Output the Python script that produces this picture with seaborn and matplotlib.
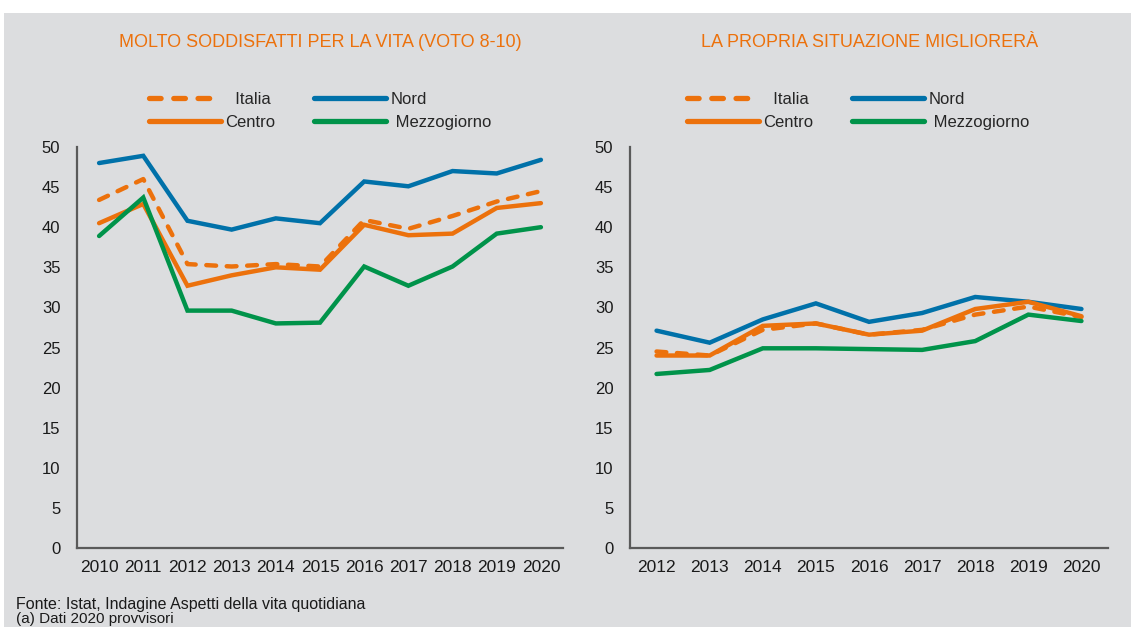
import numpy as np
import pandas as pd
import matplotlib
matplotlib.use("Agg")
import matplotlib.pyplot as plt
import seaborn as sns
from matplotlib.patches import Rectangle
from matplotlib.lines import Line2D

# ---------------- data ----------------
series = ["Italia", "Nord", "Centro", "Mezzogiorno"]

years_left = [2010, 2011, 2012, 2013, 2014, 2015, 2016, 2017, 2018, 2019, 2020]
italia_left = [43.4, 46.0, 35.4, 35.1, 35.4, 35.1, 40.9, 39.8, 41.4, 43.2, 44.5]
nord_left = [48.0, 48.9, 40.8, 39.7, 41.1, 40.5, 45.7, 45.1, 47.0, 46.7, 48.4]
centro_left = [40.5, 42.9, 32.7, 34.0, 35.0, 34.7, 40.3, 39.0, 39.2, 42.4, 43.0]
mezzo_left = [38.9, 43.7, 29.6, 29.6, 28.0, 28.1, 35.1, 32.7, 35.1, 39.2, 40.0]

years_right = [2012, 2013, 2014, 2015, 2016, 2017, 2018, 2019, 2020]
italia_right = [24.5, 24.0, 27.2, 28.0, 26.6, 27.2, 29.1, 30.1, 28.8]
nord_right = [27.1, 25.6, 28.5, 30.5, 28.2, 29.3, 31.3, 30.7, 29.8]
centro_right = [24.0, 24.0, 27.7, 28.0, 26.6, 27.1, 29.8, 30.7, 28.9]
mezzo_right = [21.7, 22.2, 24.9, 24.9, 24.8, 24.7, 25.8, 29.1, 28.3]

title_left = "MOLTO SODDISFATTI PER LA VITA (VOTO 8-10)"
title_right = "LA PROPRIA SITUAZIONE MIGLIORERÀ"
source_line1 = "Fonte: Istat, Indagine Aspetti della vita quotidiana"
source_line2 = "(a) Dati 2020 provvisori"
y_ticks = [0, 5, 10, 15, 20, 25, 30, 35, 40, 45, 50]

# ---------------- style ----------------
BG = "#DCDDDF"
ORANGE = "#EC710C"
BLUE = "#0071A9"
GREEN = "#00934A"
SPINE = "#5A5A5A"
TXT = "#1A1A1A"
palette = {"Italia": ORANGE, "Nord": BLUE, "Centro": ORANGE, "Mezzogiorno": GREEN}
dash_map = {"Italia": (2.2, 2.4), "Nord": "", "Centro": "", "Mezzogiorno": ""}
LW = 3.2

sns.set_style("white")
NARROW = ["Liberation Sans Narrow", "Liberation Sans", "DejaVu Sans"]
SANS = ["Liberation Sans", "Arial", "DejaVu Sans"]
plt.rcParams["font.family"] = SANS

W, H = 1131, 627
fig = plt.figure(figsize=(W / 100, H / 100), dpi=100)
fig.patch.set_facecolor("white")
fig.add_artist(Rectangle((4 / W, 0), 1, (H - 13) / H, transform=fig.transFigure,
                         facecolor=BG, edgecolor="none", zorder=-10))

ax_l = fig.add_axes([77 / W, 1 - 548 / H, 486 / W, 401 / H])
ax_r = fig.add_axes([630 / W, 1 - 548 / H, 478 / W, 401 / H])


def long_df(years, vals):
    rows = []
    for name, v in zip(series, vals):
        for i, (yr, val) in enumerate(zip(years, v)):
            rows.append({"pos": i, "anno": yr, "serie": name, "valore": val})
    return pd.DataFrame(rows)


def draw(ax, years, vals, title, tx, lx):
    df = long_df(years, vals)
    sns.lineplot(data=df, x="pos", y="valore", hue="serie", style="serie",
                 hue_order=series, style_order=series, palette=palette,
                 dashes=dash_map, linewidth=LW, legend=False, sort=False, ax=ax)
    for ln in ax.lines:
        ln.set_dash_capstyle("round")
        ln.set_solid_capstyle("round")
        ln.set_solid_joinstyle("miter")
    n = len(years)
    ax.set_facecolor("none")
    ax.set_xlim(-0.5, n - 0.5)
    ax.set_ylim(0, 50)
    ax.set_xticks(np.arange(-0.5, n, 1))
    ax.set_xticklabels([])
    ax.set_xticks(np.arange(n), minor=True)
    ax.set_xticklabels([str(y) for y in years], minor=True)
    ax.set_yticks(y_ticks)
    ax.set_yticklabels([str(t) for t in y_ticks])
    ax.tick_params(axis="x", which="major", length=3.6, width=1.3, color=SPINE, direction="out")
    ax.tick_params(axis="x", which="minor", length=0, pad=9, labelsize=12.5, labelcolor=TXT)
    ax.tick_params(axis="y", length=4, width=1.3, color=SPINE, direction="out",
                   pad=8, labelsize=12, labelcolor=TXT)
    ax.set_xlabel("")
    ax.set_ylabel("")
    ax.grid(False)
    for s in ["top", "right"]:
        ax.spines[s].set_visible(False)
    for s in ["left", "bottom"]:
        ax.spines[s].set_color(SPINE)
        ax.spines[s].set_linewidth(1.6)

    handles = []
    labels = []
    for name, lab in [("Italia", "  Italia"), ("Centro", "Centro"),
                      ("Nord", "Nord"), ("Mezzogiorno", " Mezzogiorno")]:
        h = Line2D([0], [0], color=palette[name], linewidth=3.8,
                   linestyle=(0, (2.2, 2.4)) if name == "Italia" else "-",
                   dash_capstyle="round", solid_capstyle="round")
        handles.append(h)
        labels.append(lab)
    ax.legend(handles, labels, loc="center", bbox_to_anchor=(lx, 1.09), ncol=2,
              frameon=False, handlelength=4.3, handletextpad=0.3, columnspacing=2.3,
              labelspacing=0.45, borderaxespad=0, prop={"family": SANS, "size": 12})
    ax.text(tx, 1.2606, title, transform=ax.transAxes, ha="center", va="center",
            color=ORANGE, fontsize=13, family=NARROW)


draw(ax_l, years_left, [italia_left, nord_left, centro_left, mezzo_left], title_left, 0.5, 0.5)
draw(ax_r, years_right, [italia_right, nord_right, centro_right, mezzo_right], title_right, 0.502, 0.477)

fig.text(16 / W, 1 - 609 / H, source_line1, va="baseline", ha="left", fontsize=11.5,
         color=TXT, family=NARROW)
fig.text(16 / W, 1 - 623 / H, source_line2, va="baseline", ha="left", fontsize=11,
         color=TXT, family=NARROW)

fig.savefig("out.png", dpi=100, facecolor=fig.get_facecolor())
